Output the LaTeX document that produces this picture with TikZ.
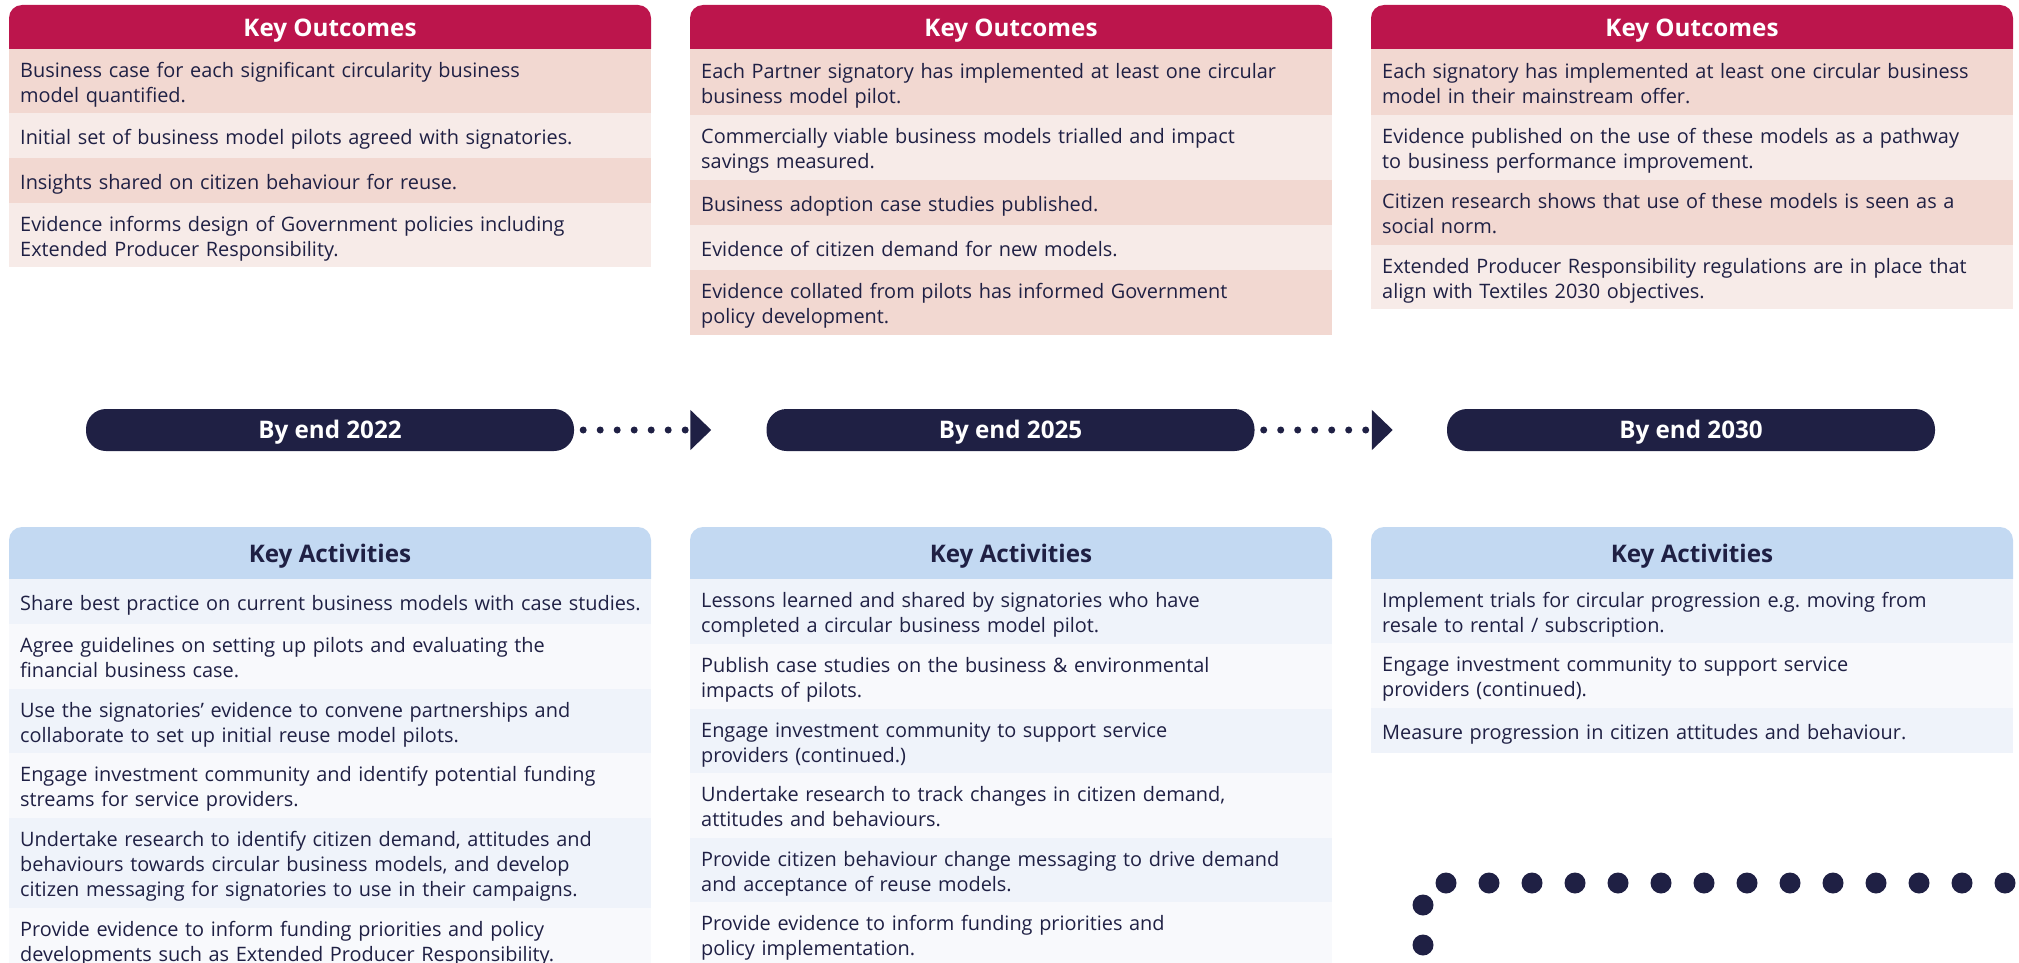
\documentclass[tikz,border=0pt]{standalone}
\usepackage{fontspec}
\setmainfont{Open Sans}
\usetikzlibrary{arrows.meta}
\definecolor{crimson}{HTML}{BC154C}
\definecolor{navy}{HTML}{1F2044}
\definecolor{odark}{HTML}{F2D8D1}
\definecolor{olight}{HTML}{F7EBE8}
\definecolor{ahead}{HTML}{C3D9F2}
\definecolor{adark}{HTML}{EFF3FA}
\definecolor{alight}{HTML}{F8F9FC}
\begin{document}
\begin{tikzpicture}[x=1pt,y=-1pt,
  row/.style={anchor=north west, inner xsep=11pt, inner ysep=0pt, minimum width=642pt,
    text width=620pt, align=left, font=\fontsize{19.9}{25}\selectfont, text=navy,
    text height=24.5pt, execute at end node=\strut},
  htext/.style={font=\bfseries\fontsize{24.2}{28}\selectfont, inner sep=0pt, anchor=base},
  pill/.style={fill=navy, text=white, rounded corners=20pt, minimum width=488pt,
    minimum height=42pt, inner sep=0pt, text height=17.3pt, text depth=0pt,
    font=\bfseries\fontsize{24.2}{28}\selectfont},
  dotline/.style={navy, line width=7pt, line cap=round, dash pattern=on 0pt off 17pt,
    -{Triangle[length=21pt,width=39pt]}},
  bigdot/.style={fill=navy}]
\useasboundingbox (0,0) rectangle (2019,963);
\clip (0,0) rectangle (2019,963);

% ---------- Key Outcomes ----------
\fill[crimson] (9,49) [rounded corners=13pt] -- (9,5) -- (651,5) [sharp corners] -- (651,49) -- cycle;
\fill[crimson] (690,49) [rounded corners=13pt] -- (690,5) -- (1332,5) [sharp corners] -- (1332,49) -- cycle;
\fill[crimson] (1371,49) [rounded corners=13pt] -- (1371,5) -- (2013,5) [sharp corners] -- (2013,49) -- cycle;
\node[htext, text=white] (oh1) at (330,37) {Key Outcomes};
\node[htext, text=white] (oh2) at (1011,37) {Key Outcomes};
\node[htext, text=white] (oh3) at (1692,37) {Key Outcomes};

\node[row, fill=odark, minimum height=64pt] (o11) at (9,49) {Business case for each significant circularity business\\model quantified.};
\node[row, fill=olight, minimum height=45pt] (o12) at (9,113) {Initial set of business model pilots agreed with signatories.};
\node[row, fill=odark, minimum height=45pt] (o13) at (9,158) {Insights shared on citizen behaviour for reuse.};
\node[row, fill=olight, minimum height=64pt] (o14) at (9,203) {Evidence informs design of Government policies including\\Extended Producer Responsibility.};

\node[row, fill=odark, minimum height=66pt] (o21) at (690,49) {Each Partner signatory has implemented at least one circular\\business model pilot.};
\node[row, fill=olight, minimum height=65pt] (o22) at (690,115) {Commercially viable business models trialled and impact\\savings measured.};
\node[row, fill=odark, minimum height=45pt] (o23) at (690,180) {Business adoption case studies published.};
\node[row, fill=olight, minimum height=45pt] (o24) at (690,225) {Evidence of citizen demand for new models.};
\node[row, fill=odark, minimum height=65pt] (o25) at (690,270) {Evidence collated from pilots has informed Government\\policy development.};

\node[row, fill=odark, minimum height=66pt] (o31) at (1371,49) {Each signatory has implemented at least one circular business\\model in their mainstream offer.};
\node[row, fill=olight, minimum height=65pt] (o32) at (1371,115) {Evidence published on the use of these models as a pathway\\to business performance improvement.};
\node[row, fill=odark, minimum height=65pt] (o33) at (1371,180) {Citizen research shows that use of these models is seen as a\\social norm.};
\node[row, fill=olight, minimum height=64pt] (o34) at (1371,245) {Extended Producer Responsibility regulations are in place that\\align with Textiles 2030 objectives.};

% ---------- Timeline ----------
\node[pill] (p1) at (330,430) {By end 2022};
\node[pill] (p2) at (1010.5,430) {By end 2025};
\node[pill] (p3) at (1691,430) {By end 2030};
\draw[dotline] ([xshift=9pt]p1.east) -- ([xshift=-55pt]p2.west);
\draw[dotline] ([xshift=9pt]p2.east) -- ([xshift=-54pt]p3.west);

% ---------- Key Activities ----------
\fill[ahead] (9,579) [rounded corners=13pt] -- (9,527) -- (651,527) [sharp corners] -- (651,579) -- cycle;
\fill[ahead] (690,579) [rounded corners=13pt] -- (690,527) -- (1332,527) [sharp corners] -- (1332,579) -- cycle;
\fill[ahead] (1371,579) [rounded corners=13pt] -- (1371,527) -- (2013,527) [sharp corners] -- (2013,579) -- cycle;
\node[htext, text=navy] (ah1) at (330,562) {Key Activities};
\node[htext, text=navy] (ah2) at (1011,562) {Key Activities};
\node[htext, text=navy] (ah3) at (1692,562) {Key Activities};

\node[row, fill=adark, minimum height=45pt] (a11) at (9,579) {\mbox{Share best practice on current business models with case studies.}};
\node[row, fill=alight, minimum height=65pt] (a12) at (9,624) {Agree guidelines on setting up pilots and evaluating the\\financial business case.};
\node[row, fill=adark, minimum height=64pt] (a13) at (9,689) {Use the signatories’ evidence to convene partnerships and\\collaborate to set up initial reuse model pilots.};
\node[row, fill=alight, minimum height=65pt] (a14) at (9,753) {Engage investment community and identify potential funding\\streams for service providers.};
\node[row, fill=adark, minimum height=90pt] (a15) at (9,818) {Undertake research to identify citizen demand, attitudes and\\behaviours towards circular business models, and develop\\citizen messaging for signatories to use in their campaigns.};
\node[row, fill=alight, minimum height=65pt] (a16) at (9,908) {Provide evidence to inform funding priorities and policy\\developments such as Extended Producer Responsibility.};

\node[row, fill=adark, minimum height=65pt] (a21) at (690,579) {Lessons learned and shared by signatories who have\\completed a circular business model pilot.};
\node[row, fill=alight, minimum height=65pt] (a22) at (690,644) {Publish case studies on the business \& environmental\\impacts of pilots.};
\node[row, fill=adark, minimum height=64pt] (a23) at (690,709) {Engage investment community to support service\\providers (continued.)};
\node[row, fill=alight, minimum height=65pt] (a24) at (690,773) {Undertake research to track changes in citizen demand,\\attitudes and behaviours.};
\node[row, fill=adark, minimum height=64pt] (a25) at (690,838) {Provide citizen behaviour change messaging to drive demand\\and acceptance of reuse models.};
\node[row, fill=alight, minimum height=65pt] (a26) at (690,902) {Provide evidence to inform funding priorities and\\policy implementation.};

\node[row, fill=adark, minimum height=64pt] (a31) at (1371,579) {Implement trials for circular progression e.g.\ moving from\\resale to rental / subscription.};
\node[row, fill=alight, minimum height=65pt] (a32) at (1371,643) {Engage investment community to support service\\providers (continued).};
\node[row, fill=adark, minimum height=45pt] (a33) at (1371,708) {Measure progression in citizen attitudes and behaviour.};

% ---------- decorative dots ----------
\foreach \k in {0,...,13} \fill[bigdot] ({1446+43*\k},883) circle (10.5pt);
\fill[bigdot] (1423,905) circle (10.5pt);
\fill[bigdot] (1423,945) circle (10.5pt);
\end{tikzpicture}
\end{document}
